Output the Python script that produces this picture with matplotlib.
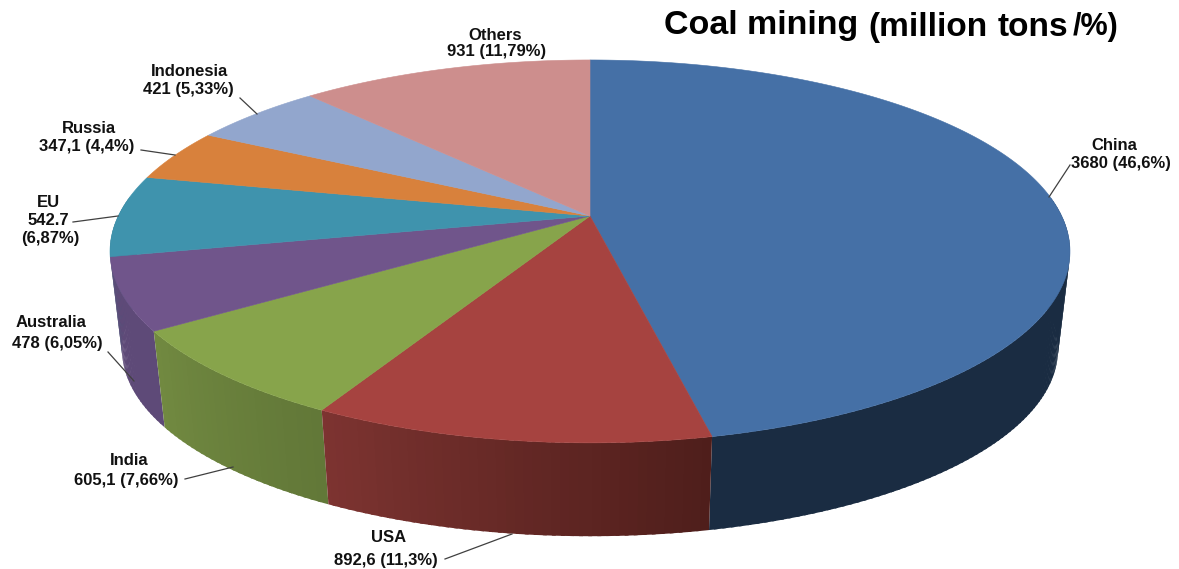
import numpy as np
import matplotlib
matplotlib.use('Agg')
import matplotlib.pyplot as plt
from matplotlib.collections import PolyCollection
from matplotlib.colors import to_rgb
from matplotlib.patches import Polygon

plt.rcParams['font.family'] = ['Liberation Sans', 'DejaVu Sans']

# Данные
names = ['China', 'USA', 'India', 'Australia', 'EU', 'Russia', 'Indonesia', 'Others']
values = ['3680', '892,6', '605,1', '478', '542.7', '347,1', '421', '931']
shares = [46.6, 11.3, 7.66, 6.05, 6.87, 4.4, 5.33, 11.79]
top_colors = ['#4570a6', '#a64340', '#87a44b', '#70558b', '#3f93ad', '#d8813c', '#92a6cd', '#cd8e8d']
wall_start = ['#1a2c42', '#4f1e1b', '#627838', '#5e4a78', '#2d6a7e', '#9c5c2a', '#6a7894', '#946665']
wall_end = ['#1a2c42', '#7e3431', '#728a41', '#5e4a78', '#2d6a7e', '#9c5c2a', '#6a7894', '#946665']

# Геометрия пирога на картинке (пиксели)
CX, CY = 590, 216
A, B, K = 471.7, 184.9, 0.185
SHRINK, DEPTH = 0.975, 99
LABEL_SIZE = 12


def top_ring(angle):
    # Угол по часовой стрелке от верхней точки, перспектива к зрителю
    ang = np.radians(angle)
    w = 1 + K * np.cos(ang)
    return CX + A * np.sin(ang) / w, CY - B * np.cos(ang) / w


def bottom_ring(angle):
    x, y = top_ring(angle)
    return CX + SHRINK * (x - CX), CY + SHRINK * (y - CY) + DEPTH


def mix(c1, c2, t):
    return tuple((1 - t) * a + t * b for a, b in zip(to_rgb(c1), to_rgb(c2)))


fig = plt.figure(figsize=(11.79, 5.69), dpi=100)
ax = fig.add_axes([0, 0, 1, 1])
ax.set_xlim(0, 1179)
ax.set_ylim(569, 0)
ax.axis('off')

edges = 3.6 * np.concatenate(([0], np.cumsum(shares)))

# Боковая стенка: полоски внахлёст, рисуем только видимую переднюю часть
quads = []
for i in range(len(shares)):
    steps = np.linspace(edges[i], edges[i + 1], max(int(shares[i] * 4), 12))
    for a0, a1 in zip(steps[:-1], steps[1:]):
        if np.cos(np.radians((a0 + a1) / 2)) > 0.1:
            continue
        t = (a0 - edges[i]) / (edges[i + 1] - edges[i])
        span = np.linspace(a0, min(a1 + 0.4, edges[i + 1]), 8)
        xt, yt = top_ring(span)
        xb, yb = bottom_ring(span)
        pts = np.column_stack([np.r_[xt, xb[::-1]], np.r_[yt, yb[::-1]]])
        quads.append((np.cos(np.radians(a0)), pts, mix(wall_start[i], wall_end[i], t)))
quads.sort(key=lambda q: -q[0])
ax.add_collection(PolyCollection([q[1] for q in quads], facecolors=[q[2] for q in quads],
                                 edgecolors='none', linewidths=0))

# Верхняя грань
for i in range(len(shares)):
    steps = np.linspace(edges[i], edges[i + 1], 200)
    x, y = top_ring(steps)
    pts = np.column_stack([np.r_[CX, x], np.r_[CY, y]])
    ax.add_patch(Polygon(pts, closed=True, facecolor=top_colors[i],
                         edgecolor=top_colors[i], linewidth=0.4))

# Выноски
leaders = [((1070, 165), (1049, 197)), ((445, 559), (512, 534)), ((185, 479), (233, 467)),
           ((108, 352), (134, 381)), ((73, 222), (118, 216)), ((141, 150), (175, 155)),
           ((240, 98), (257, 114))]
for start, end in leaders:
    ax.plot([start[0], end[0]], [start[1], end[1]], color='#404040', linewidth=0.9)

# Подписи
name_pos = [(1114, 145), (389, 538), (129, 460), (51, 322), (48, 202), (89, 128), (190, 71), (495, 35)]
value_pos = [(1121, 163), (386, 560), (126, 480), (57, 343), (48, 220), (87, 146), (188, 89), (497, 51)]
for i, name in enumerate(names):
    share = f'({shares[i]:g}%)'.replace('.', ',')
    ax.text(*name_pos[i], name, ha='center', va='center', fontsize=LABEL_SIZE, fontweight='bold', color='#111111')
    if name == 'EU':
        ax.text(*value_pos[i], values[i], ha='center', va='center', fontsize=LABEL_SIZE, fontweight='bold', color='#111111')
        ax.text(50, 238, share, ha='center', va='center', fontsize=LABEL_SIZE, fontweight='bold', color='#111111')
    else:
        ax.text(*value_pos[i], f'{values[i]} {share}', ha='center', va='center', fontsize=LABEL_SIZE,
                fontweight='bold', color='#111111')

# Заголовок
ax.text(664, 34, 'Coal mining', ha='left', va='baseline', fontsize=24.5, fontweight='bold', color='black')
ax.text(868, 36, '(million', ha='left', va='baseline', fontsize=24, fontweight='bold', color='black')
ax.text(998, 36, 'tons', ha='left', va='baseline', fontsize=24, fontweight='bold', color='black')
ax.text(1073, 35, '/%)', ha='left', va='baseline', fontsize=22, fontweight='bold', color='black')

plt.savefig('out.png', dpi=100)
